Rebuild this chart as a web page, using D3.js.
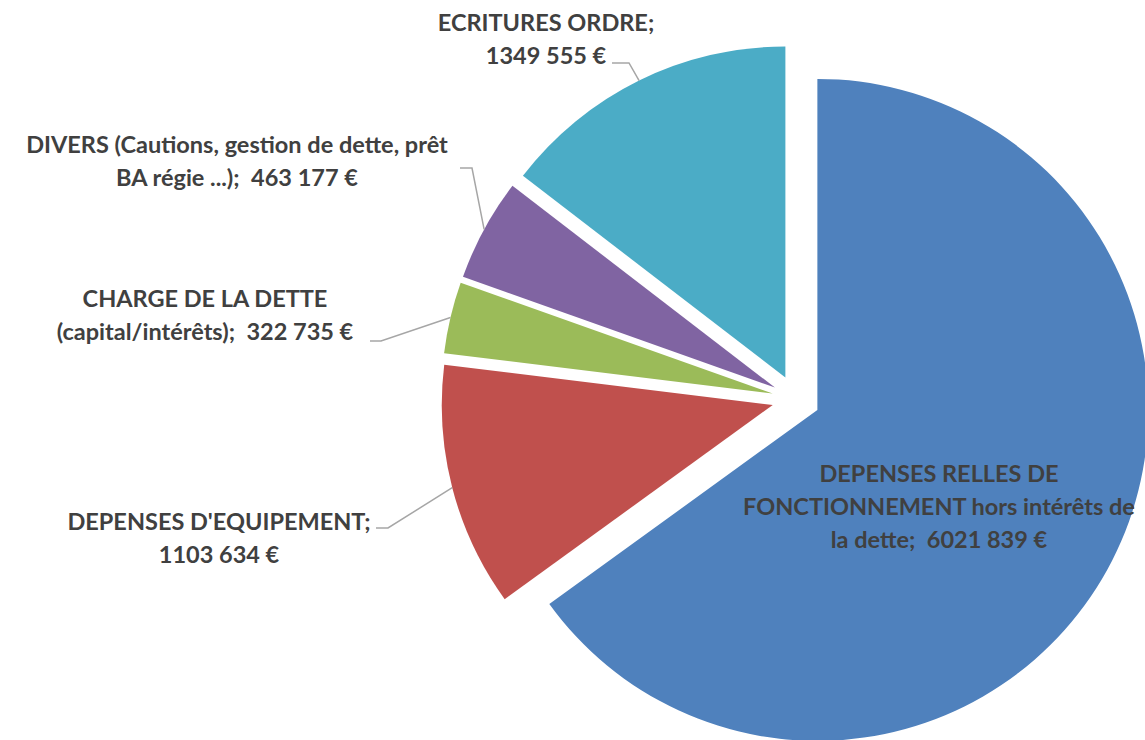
<!DOCTYPE html>
<html>
<head>
<meta charset="utf-8">
<script src="https://cdn.jsdelivr.net/npm/d3@7"></script>
<style>
  body { margin: 0; background: #fff; }
  text { font-family: Lato, "Open Sans", sans-serif; font-weight: bold; fill: #404040; white-space: pre; }
</style>
</head>
<body>
<svg width="1145" height="740"></svg>
<script>
// data
var categories = [
    "DEPENSES RELLES DE FONCTIONNEMENT hors intérêts de la dette",
    "DEPENSES D'EQUIPEMENT",
    "CHARGE DE LA DETTE (capital/intérêts)",
    "DIVERS (Cautions, gestion de dette, prêt BA régie ...)",
    "ECRITURES ORDRE"
];
var values = [6021839, 1103634, 322735, 463177, 1349555];
var colors = ["#4f81bd", "#c0504d", "#9bbb59", "#8064a2", "#4bacc6"];
// label text as wrapped in the picture (value appended below)
var labelLines = [
    ["DEPENSES RELLES DE", "FONCTIONNEMENT hors intérêts de", "la dette;  "],
    ["DEPENSES D'EQUIPEMENT;", ""],
    ["CHARGE DE LA DETTE", "(capital/intérêts);  "],
    ["DIVERS (Cautions, gestion de dette, prêt", "BA régie ...);  "],
    ["ECRITURES ORDRE;", ""]
];

var width = 1145, height = 740;
var cx = 796, cy = 399, radius = 331, explode = 24;
var lineH = 33;

// label placement: centre x, first baseline, leader start and elbow
var labelLayout = [
    {x: 939, y: 482, leader: null},
    {x: 219, y: 530, leader: {x: 376, y: 528, ex: 388}},
    {x: 205, y: 307, leader: {x: 370, y: 341, ex: 381}},
    {x: 237, y: 153, leader: {x: 460, y: 168, ex: 472}},
    {x: 546, y: 31,  leader: {x: 612, y: 63, ex: 629}}
];

function euro(v) {
    var s = String(v);
    return s.slice(0, -3) + " " + s.slice(-3) + " €";
}

var svg = d3.select("svg")
    .attr("width", width)
    .attr("height", height);

var pie = d3.pie().sort(null).value(function(d) { return d; });
var arcs = pie(values);
var arc = d3.arc().innerRadius(0).outerRadius(radius);

function dir(a) { return [Math.sin(a), -Math.cos(a)]; }

var g = svg.append("g").attr("transform", "translate(" + cx + "," + cy + ")");

g.selectAll(".slice")
    .data(arcs)
  .enter().append("path")
    .attr("class", "slice")
    .attr("d", arc)
    .attr("fill", function(d, i) { return colors[i]; })
    .attr("transform", function(d) {
        var m = dir((d.startAngle + d.endAngle) / 2);
        return "translate(" + m[0] * explode + "," + m[1] * explode + ")";
    });

// leader lines
arcs.forEach(function(d, i) {
    var lay = labelLayout[i];
    if (!lay.leader) return;
    var m = dir((d.startAngle + d.endAngle) / 2);
    var px = cx + m[0] * (explode + radius), py = cy + m[1] * (explode + radius);
    svg.append("polyline")
        .attr("points", [[lay.leader.x, lay.leader.y], [lay.leader.ex, lay.leader.y], [px, py]].join(" "))
        .attr("fill", "none")
        .attr("stroke", "#a6a6a6")
        .attr("stroke-width", 1.5);
});

// labels
arcs.forEach(function(d, i) {
    var lay = labelLayout[i];
    var lines = labelLines[i].slice();
    lines[lines.length - 1] += euro(values[i]);
    var t = svg.append("text")
        .attr("text-anchor", "middle")
        .style("font-size", "23.5px");
    lines.forEach(function(l, k) {
        t.append("tspan")
            .attr("x", lay.x)
            .attr("y", lay.y + k * lineH)
            .text(l);
    });
});
</script>
</body>
</html>
